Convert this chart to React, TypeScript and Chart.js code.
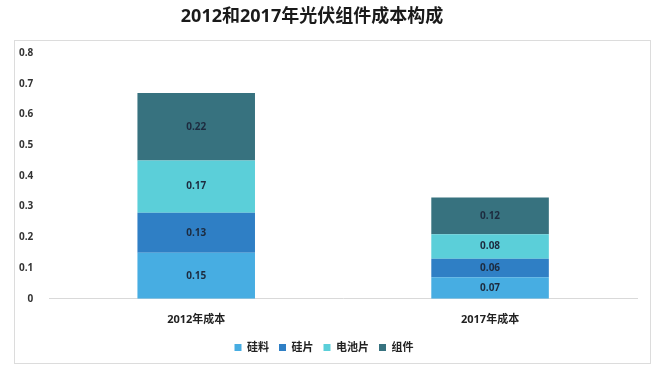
import React, { useEffect, useRef } from "react";
import { Chart, registerables } from "chart.js";

Chart.register(...registerables);

const categories = ["2012年成本", "2017年成本"];
const seriesNames = ["硅料", "硅片", "电池片", "组件"];
const siliconMaterial = [0.15, 0.07];
const wafer = [0.13, 0.06];
const cell = [0.17, 0.08];
const module = [0.22, 0.12];
const colors = ["#47ade2", "#2f7fc5", "#5bcfd9", "#37727f"];
const titleText = "2012和2017年光伏组件成本构成";

const FONT = "'Open Sans', 'Noto Sans CJK SC', sans-serif";

const framePlugin = {
  id: "frame",
  beforeDraw(chart: any) {
    const ctx = chart.ctx;
    ctx.save();
    ctx.fillStyle = "#ffffff";
    ctx.fillRect(0, 0, chart.width, chart.height);
    ctx.strokeStyle = "#dcdcdc";
    ctx.lineWidth = 1;
    ctx.strokeRect(14.5, 40.5, 636, 323);
    ctx.font = "bold 18px " + FONT;
    ctx.fillStyle = "#1a1a1a";
    ctx.textAlign = "center";
    ctx.textBaseline = "middle";
    ctx.fillText(titleText, 312, 17);
    ctx.restore();
  },
};

const labelPlugin = {
  id: "stackLabels",
  afterDatasetsDraw(chart: any) {
    const ctx = chart.ctx;
    ctx.save();
    ctx.font = "bold 10px " + FONT;
    ctx.fillStyle = "#1d2b3f";
    ctx.textAlign = "center";
    ctx.textBaseline = "middle";
    chart.data.datasets.forEach((ds: any, i: number) => {
      const meta = chart.getDatasetMeta(i);
      meta.data.forEach((el: any, j: number) => {
        const v = ds.data[j];
        const yMid = (el.y + el.base) / 2;
        ctx.fillText(v.toFixed(2), el.x, yMid);
      });
    });
    ctx.restore();
  },
};

export default function App() {
  const ref = useRef<HTMLCanvasElement>(null);
  useEffect(() => {
    const values = [siliconMaterial, wafer, cell, module];
    const chart = new Chart(ref.current!, {
      type: "bar",
      data: {
        labels: categories,
        datasets: seriesNames.map((n, i) => ({
          label: n,
          data: values[i],
          backgroundColor: colors[i],
          borderWidth: 0,
          categoryPercentage: 0.8,
          barPercentage: 0.5,
        })),
      },
      options: {
        animation: false,
        responsive: false,
        maintainAspectRatio: false,
        layout: { padding: { left: 11, right: 27, top: 53, bottom: 10 } },
        plugins: {
          title: { display: false },
          legend: {
            position: "bottom",
            labels: {
              boxWidth: 7,
              boxHeight: 7,
              padding: 10,
              color: "#222",
              font: { family: FONT, size: 11, weight: "bold" },
            },
          },
          tooltip: { enabled: false },
        },
        scales: {
          x: {
            stacked: true,
            grid: { display: false },
            border: { display: true, color: "#d9d9d9" },
            ticks: { color: "#222", padding: 6, font: { family: FONT, size: 11, weight: "bold" } },
          },
          y: {
            stacked: true,
            min: 0,
            max: 0.8,
            ticks: { stepSize: 0.1, color: "#333", font: { family: FONT, size: 10, weight: "bold" }, padding: 8 },
            grid: { display: false },
            border: { display: false },
          },
        },
      },
      plugins: [framePlugin, labelPlugin],
    });
    return () => chart.destroy();
  }, []);
  return (
    <div style={{ position: "absolute", left: 0, top: 0, width: 664, height: 373 }}>
      <canvas ref={ref} width={664} height={373} style={{ width: 664, height: 373 }} />
    </div>
  );
}
